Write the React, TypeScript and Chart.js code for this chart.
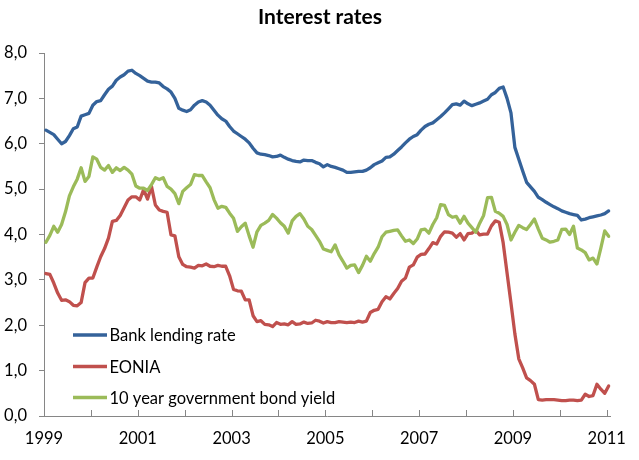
import React, { useEffect, useRef } from 'react';
import { Chart, registerables } from 'chart.js';

Chart.register(...registerables);

// ---- data (monthly, Jan 1999 – Jan 2011) ----
const yearLabels = ['1999', '2000', '2001', '2002', '2003', '2004', '2005', '2006', '2007', '2008', '2009', '2010', '2011'];
const yTickLabels = ['0,0', '1,0', '2,0', '3,0', '4,0', '5,0', '6,0', '7,0', '8,0'];
const seriesNames = ['Bank lending rate', 'EONIA', '10 year government bond yield'];

const bankLending = [
  6.30, 6.25, 6.20, 6.10, 6.00, 6.05, 6.18, 6.33, 6.37, 6.61, 6.64, 6.67,
  6.85, 6.93, 6.95, 7.08, 7.20, 7.27, 7.40, 7.47, 7.52, 7.60, 7.62, 7.55,
  7.50, 7.44, 7.38, 7.36, 7.36, 7.34, 7.26, 7.21, 7.14, 7.00, 6.78, 6.74,
  6.71, 6.75, 6.85, 6.92, 6.95, 6.92, 6.85, 6.74, 6.63, 6.55, 6.50, 6.38,
  6.28, 6.22, 6.16, 6.10, 6.02, 5.90, 5.80, 5.77, 5.76, 5.74, 5.71, 5.72,
  5.75, 5.70, 5.66, 5.63, 5.61, 5.60, 5.64, 5.63, 5.63, 5.59, 5.56, 5.49,
  5.54, 5.50, 5.48, 5.45, 5.42, 5.37, 5.37, 5.38, 5.39, 5.39, 5.42, 5.47,
  5.54, 5.58, 5.62, 5.70, 5.71, 5.77, 5.85, 5.93, 6.02, 6.10, 6.16, 6.20,
  6.30, 6.38, 6.43, 6.46, 6.53, 6.60, 6.68, 6.77, 6.86, 6.88, 6.85, 6.94,
  6.88, 6.84, 6.87, 6.90, 6.94, 6.98, 7.08, 7.13, 7.22, 7.25, 7.00, 6.68,
  5.92, 5.66, 5.40, 5.15, 5.05, 4.95, 4.82, 4.77, 4.71, 4.66, 4.61, 4.57,
  4.52, 4.49, 4.46, 4.44, 4.42, 4.32, 4.34, 4.37, 4.39, 4.41, 4.43, 4.46,
  4.52,
];

const eonia = [
  3.14, 3.12, 2.93, 2.71, 2.55, 2.56, 2.52, 2.44, 2.43, 2.50, 2.94, 3.04,
  3.04, 3.28, 3.51, 3.69, 3.92, 4.29, 4.31, 4.42, 4.59, 4.76, 4.83, 4.83,
  4.76, 4.99, 4.78, 5.06, 4.65, 4.54, 4.51, 4.49, 3.99, 3.97, 3.51, 3.34,
  3.29, 3.28, 3.26, 3.32, 3.31, 3.35, 3.30, 3.29, 3.32, 3.30, 3.30, 3.09,
  2.79, 2.76, 2.75, 2.56, 2.56, 2.21, 2.08, 2.10, 2.02, 2.01, 1.97, 2.06,
  2.02, 2.03, 2.01, 2.08, 2.02, 2.03, 2.07, 2.04, 2.05, 2.11, 2.09, 2.05,
  2.08, 2.06, 2.06, 2.08, 2.07, 2.06, 2.07, 2.06, 2.09, 2.07, 2.09, 2.28,
  2.33, 2.35, 2.52, 2.63, 2.58, 2.70, 2.81, 2.97, 3.04, 3.28, 3.33, 3.50,
  3.56, 3.57, 3.69, 3.82, 3.79, 3.96, 4.06, 4.05, 4.03, 3.94, 4.02, 3.88,
  4.02, 4.03, 4.09, 3.99, 4.01, 4.01, 4.19, 4.30, 4.27, 3.82, 3.15, 2.49,
  1.81, 1.26, 1.06, 0.84, 0.78, 0.70, 0.36, 0.35, 0.36, 0.36, 0.36, 0.35,
  0.34, 0.34, 0.35, 0.35, 0.34, 0.35, 0.48, 0.43, 0.45, 0.70, 0.59, 0.50,
  0.66,
];

const bondYield = [
  3.83, 3.98, 4.18, 4.05, 4.22, 4.50, 4.85, 5.05, 5.22, 5.47, 5.17, 5.28,
  5.71, 5.66, 5.48, 5.42, 5.52, 5.37, 5.47, 5.41, 5.48, 5.42, 5.33, 5.07,
  5.02, 5.02, 4.97, 5.10, 5.25, 5.21, 5.25, 5.06, 5.00, 4.90, 4.68, 4.95,
  5.03, 5.10, 5.32, 5.30, 5.30, 5.16, 5.03, 4.77, 4.58, 4.62, 4.60, 4.47,
  4.36, 4.07, 4.17, 4.25, 3.97, 3.72, 4.06, 4.20, 4.25, 4.31, 4.44, 4.36,
  4.26, 4.18, 4.03, 4.30, 4.40, 4.46, 4.34, 4.18, 4.11, 3.98, 3.85, 3.68,
  3.65, 3.62, 3.77, 3.55, 3.41, 3.26, 3.32, 3.33, 3.16, 3.32, 3.52, 3.41,
  3.58, 3.72, 3.95, 4.05, 4.07, 4.09, 4.10, 3.97, 3.85, 3.88, 3.80, 3.90,
  4.10, 4.12, 4.03, 4.22, 4.37, 4.66, 4.64, 4.44, 4.38, 4.40, 4.25, 4.40,
  4.25, 4.15, 4.05, 4.25, 4.42, 4.81, 4.82, 4.51, 4.47, 4.40, 4.22, 3.88,
  4.05, 4.20, 4.15, 4.11, 4.22, 4.34, 4.12, 3.92, 3.88, 3.83, 3.85, 3.88,
  4.11, 4.12, 4.00, 4.18, 3.70, 3.66, 3.60, 3.44, 3.48, 3.35, 3.70, 4.08,
  3.96,
];

const COLORS = ['#34629A', '#C0504D', '#9BBB59'];
const AXIS = '#868686';
const FONT = 'Lato, "Open Sans", sans-serif';

export default function App() {
  const ref = useRef<HTMLCanvasElement>(null);

  useEffect(() => {
    let chart: Chart | null = null;
    let cancelled = false;

    const make = () => {
      if (cancelled || !ref.current) return;
      const toPts = (arr: number[]) => arr.map((v, i) => ({ x: i + 0.5, y: v }));
      const series = [bankLending, eonia, bondYield];

      const decor = {
        id: 'decor',
        afterDraw(c: any) {
          const ctx = c.ctx as CanvasRenderingContext2D;
          const xs = c.scales.x;
          const area = c.chartArea;
          ctx.save();
          // inward x tick marks
          ctx.strokeStyle = AXIS;
          ctx.lineWidth = 1;
          for (let i = 1; i < yearLabels.length; i++) {
            const px = Math.round(xs.getPixelForValue(i * 12)) + 0.5;
            ctx.beginPath();
            ctx.moveTo(px, area.bottom);
            ctx.lineTo(px, area.bottom - 6);
            ctx.stroke();
          }
          // title
          ctx.fillStyle = '#000';
          ctx.font = `bold 21px ${FONT}`;
          ctx.textAlign = 'center';
          ctx.textBaseline = 'middle';
          ctx.fillText('Interest rates', 320, 17);
          // legend
          const rows = [335, 366.5, 397.5];
          ctx.font = `16.5px ${FONT}`;
          ctx.textAlign = 'left';
          c.data.datasets.forEach((ds: any, i: number) => {
            const y = rows[i];
            ctx.strokeStyle = ds.borderColor;
            ctx.lineWidth = 3.5;
            ctx.lineCap = 'butt';
            ctx.beginPath();
            ctx.moveTo(73, y);
            ctx.lineTo(107, y);
            ctx.stroke();
            ctx.fillStyle = '#000';
            ctx.fillText(ds.label, 109.5, y + 1);
          });
          ctx.restore();
        },
      };

      chart = new Chart(ref.current, {
        type: 'line',
        data: {
          datasets: series.map((s, i) => ({
            label: seriesNames[i],
            data: toPts(s),
            borderColor: COLORS[i],
            backgroundColor: COLORS[i],
            borderWidth: 3.3,
            pointRadius: 0,
            tension: 0,
            borderJoinStyle: 'round' as const,
            borderCapStyle: 'round' as const,
            order: 3 - i,
          })),
        },
        options: {
          responsive: false,
          animation: false,
          layout: { padding: { top: 53, right: 23, left: 0, bottom: 0 } },
          plugins: {
            legend: { display: false },
            title: { display: false },
            tooltip: { enabled: false },
          },
          scales: {
            x: {
              type: 'linear',
              min: 0,
              max: 145,
              afterFit: (s: any) => { s.height = 44; },
              afterBuildTicks: (s: any) => {
                s.ticks = yearLabels.map((_, i) => ({ value: i * 12 }));
              },
              grid: { display: false, drawTicks: false },
              border: { display: true, color: AXIS, width: 1 },
              ticks: {
                autoSkip: false,
                maxRotation: 0,
                padding: 13,
                color: '#000',
                font: { family: FONT, size: 16.5 },
                callback: (v: any) => {
                  const idx = Math.round(Number(v) / 12);
                  return idx % 2 === 0 ? yearLabels[idx] : '';
                },
              },
            },
            y: {
              min: 0,
              max: 8,
              afterFit: (s: any) => { s.width = 44; },
              afterBuildTicks: (s: any) => {
                s.ticks = yTickLabels.map((_, i) => ({ value: i }));
              },
              grid: { display: true, drawOnChartArea: false, drawTicks: true, tickLength: 5, color: AXIS },
              border: { display: true, color: AXIS, width: 1 },
              ticks: {
                padding: 12,
                color: '#000',
                font: { family: FONT, size: 16.5 },
                callback: (v: any) => yTickLabels[Math.round(Number(v))],
              },
            },
          },
        },
        plugins: [decor],
      });
    };

    const fonts = (document as any).fonts;
    if (fonts && fonts.load) {
      Promise.all([fonts.load(`17px Lato`), fonts.load(`bold 21px Lato`)]).then(make, make);
    } else {
      make();
    }
    return () => {
      cancelled = true;
      if (chart) chart.destroy();
    };
  }, []);

  return (
    <div style={{ position: 'fixed', left: 0, top: 0, width: 639, height: 460, background: '#fff' }}>
      <canvas ref={ref} width={639} height={460} style={{ width: 639, height: 460, display: 'block' }} />
    </div>
  );
}
